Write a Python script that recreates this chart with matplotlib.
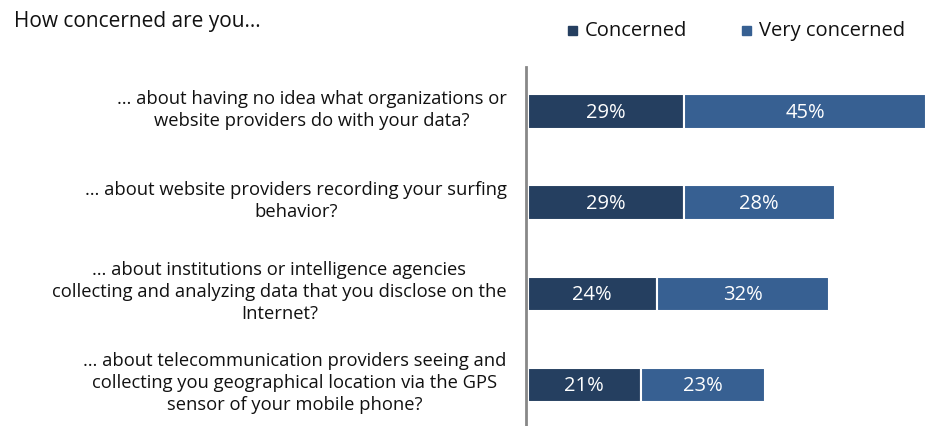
import matplotlib
matplotlib.use("Agg")
import matplotlib.pyplot as plt
from matplotlib.patches import Rectangle

plt.rcParams['font.family'] = ['Open Sans', 'DejaVu Sans']

categories = [
    "… about having no idea what organizations or\nwebsite providers do with your data?",
    "… about website providers recording your surfing\nbehavior?",
    "… about institutions or intelligence agencies\ncollecting and analyzing data that you disclose on the\nInternet?",
    "… about telecommunication providers seeing and\ncollecting you geographical location via the GPS\nsensor of your mobile phone?",
]
concerned = [29, 29, 24, 21]
very_concerned = [45, 28, 32, 23]
series_names = ["Concerned", "Very concerned"]
colors = ["#253F60", "#376092"]

fig = plt.figure(figsize=(9.29, 4.27), dpi=100)
ax = fig.add_axes([526/929, 0.0, 1 - 526/929, 1 - 68/427])

ypos = list(range(len(categories)))
h = 0.38
ax.barh(ypos, concerned, height=h, color=colors[0], edgecolor="white", linewidth=1.5)
ax.barh(ypos, very_concerned, left=concerned, height=h, color=colors[1], edgecolor="white", linewidth=1.5)

for i in ypos:
    ax.text(concerned[i] / 2, i, f"{concerned[i]}%", ha="center", va="center",
            color="white", fontsize=14.5)
    ax.text(concerned[i] + very_concerned[i] / 2, i, f"{very_concerned[i]}%", ha="center",
            va="center", color="white", fontsize=14.5)
    ax.text(-3.9, i - 0.03, categories[i], ha="right", va="center", multialignment="center",
            fontsize=13.2, color="#111111", linespacing=1.3)

ax.set_xlim(-0.3, 74.5)
ax.set_ylim(3.45, -0.49)
for s in ["top", "right", "bottom"]:
    ax.spines[s].set_visible(False)
ax.spines["left"].set_color("#888888")
ax.spines["left"].set_linewidth(2)
ax.spines["left"].set_position(("data", -0.3))
ax.set_xticks([])
ax.set_yticks([])

fig.text(14/929, 1 - 21/427, "How concerned are you...", ha="left", va="center", fontsize=15,
         color="#111111")

# legend
leg_items = [(568, series_names[0], colors[0]), (742, series_names[1], colors[1])]
for x, name, c in leg_items:
    fig.patches.append(Rectangle((x/929, 1 - 36/427), 9/929, 9/427, transform=fig.transFigure,
                                 color=c, figure=fig))
    fig.text((x + 17)/929, 1 - 31/427, name, ha="left", va="center", fontsize=14.5, color="#111111")

fig.savefig("out.png", dpi=100)
